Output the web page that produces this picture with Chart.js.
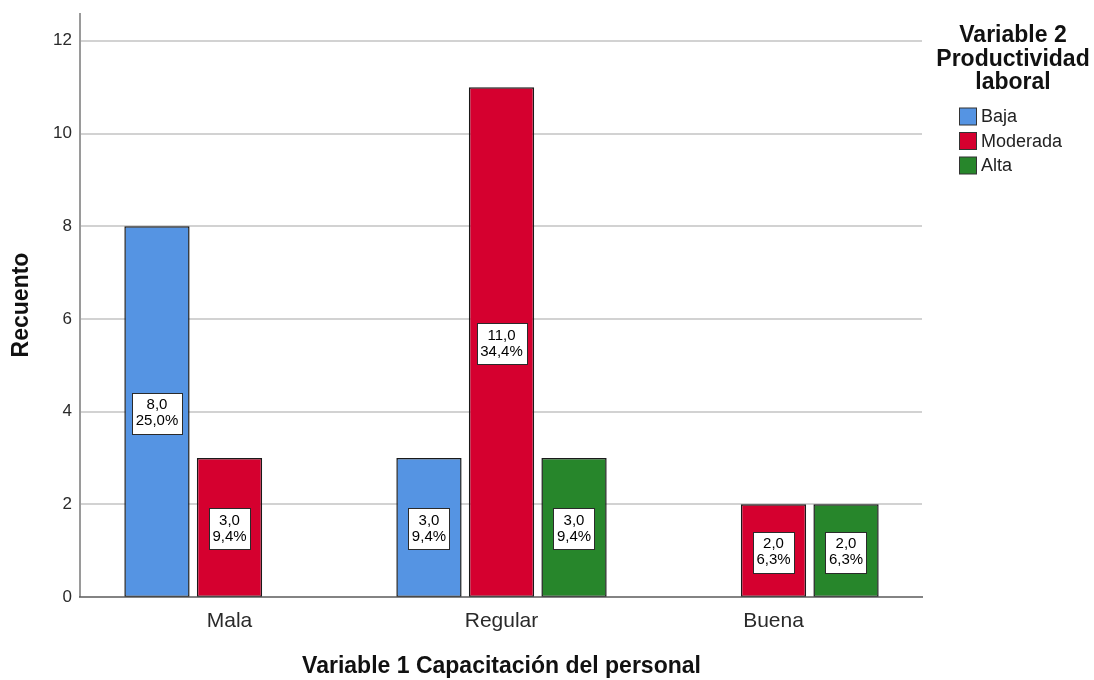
<!DOCTYPE html>
<html>
<head>
<meta charset="utf-8">
<script src="https://cdn.jsdelivr.net/npm/chart.js@4"></script>
<style>
  body { margin: 0; background: #fff; }
</style>
</head>
<body>
<canvas id="chart" width="1094" height="680"></canvas>
<script>
const categories = ['Mala', 'Regular', 'Buena'];
const seriesNames = ['Baja', 'Moderada', 'Alta'];
const baja = [8, 3, null];
const moderada = [3, 11, 2];
const alta = [null, 3, 2];
const bajaPct = [25.0, 9.4, null];
const moderadaPct = [9.4, 34.4, 6.3];
const altaPct = [null, 9.4, 6.3];
const yTicks = [0, 2, 4, 6, 8, 10, 12];

const colors = ['#5594e3', '#d5002f', '#27862b'];
const FONT = '"Liberation Sans", Arial, sans-serif';
const pctList = [bajaPct, moderadaPct, altaPct];

const fmt = v => v.toFixed(1).replace('.', ',');

// gridlines and axis lines run wider than the bar area, like SPSS
const axisLines = {
    id: 'axisLines',
    beforeDatasetsDraw(chart) {
        const ctx = chart.ctx;
        const y = chart.scales.y;
        const x0 = 80, x1 = 922;
        ctx.save();
        ctx.strokeStyle = '#d2d2d2';
        ctx.lineWidth = 2;
        yTicks.forEach(t => {
            if (t === 0) return;
            const py = Math.round(y.getPixelForValue(t));
            ctx.beginPath();
            ctx.moveTo(x0, py);
            ctx.lineTo(x1, py);
            ctx.stroke();
        });
        ctx.strokeStyle = '#9a9a9a';
        ctx.beginPath();
        ctx.moveTo(x0, chart.chartArea.top);
        ctx.lineTo(x0, y.getPixelForValue(0));
        ctx.stroke();
        ctx.restore();
    },
    afterDatasetsDraw(chart) {
        const ctx = chart.ctx;
        const py = chart.scales.y.getPixelForValue(0);
        ctx.save();
        ctx.strokeStyle = '#5a5a5a';
        ctx.lineWidth = 1.5;
        ctx.beginPath();
        ctx.moveTo(79, py);
        ctx.lineTo(923, py);
        ctx.stroke();
        ctx.restore();
    }
};

// boxed value labels in the middle of each bar
const boxLabels = {
    id: 'boxLabels',
    afterDatasetsDraw(chart) {
        const ctx = chart.ctx;
        ctx.save();
        ctx.font = '15px ' + FONT;
        ctx.textAlign = 'center';
        ctx.textBaseline = 'middle';
        chart.data.datasets.forEach((ds, i) => {
            chart.getDatasetMeta(i).data.forEach((el, j) => {
                const v = ds.data[j];
                if (v === null) return;
                const l1 = fmt(v);
                const l2 = fmt(pctList[i][j]) + '%';
                const w = Math.max(ctx.measureText(l1).width, ctx.measureText(l2).width) + 7;
                const h = 41;
                const cx = el.x;
                const cy = (el.y + el.base) / 2 + 1.5;
                ctx.fillStyle = '#fff';
                ctx.fillRect(Math.round(cx - w / 2) + 0.5, Math.round(cy - h / 2) + 0.5, Math.round(w), h);
                ctx.strokeStyle = '#2a2a2a';
                ctx.lineWidth = 1;
                ctx.strokeRect(Math.round(cx - w / 2) + 0.5, Math.round(cy - h / 2) + 0.5, Math.round(w), h);
                ctx.fillStyle = '#000';
                ctx.fillText(l1, cx, cy - 8);
                ctx.fillText(l2, cx, cy + 8);
            });
        });
        ctx.restore();
    }
};

const sideLegend = {
    id: 'sideLegend',
    afterDraw(chart) {
        const ctx = chart.ctx;
        ctx.save();
        ctx.fillStyle = '#111';
        ctx.textAlign = 'center';
        ctx.textBaseline = 'middle';
        ctx.font = 'bold 23px ' + FONT;
        ['Variable 2', 'Productividad', 'laboral'].forEach((t, i) => {
            ctx.fillText(t, 1013, 36 + i * 23.5);
        });
        ctx.font = '18px ' + FONT;
        ctx.textAlign = 'left';
        seriesNames.forEach((name, i) => {
            const cy = 116.5 + i * 24.5;
            ctx.fillStyle = colors[i];
            ctx.fillRect(959.5, cy - 8.5, 17, 17);
            ctx.strokeStyle = '#333';
            ctx.lineWidth = 1;
            ctx.strokeRect(959.5, cy - 8.5, 17, 17);
            ctx.fillStyle = '#222';
            ctx.fillText(name, 981, cy + 1);
        });
        ctx.restore();
    }
};

const makeSet = (label, data, i) => ({
    label: label,
    data: data,
    backgroundColor: colors[i],
    borderColor: '#1a1a1a',
    borderWidth: 1.5,
    borderSkipped: false,
    categoryPercentage: 0.8,
    barPercentage: 0.9
});

const noPad = s => {
    s.paddingTop = 0;
    s.paddingBottom = 0;
    s.paddingLeft = 0;
    s.paddingRight = 0;
};

new Chart(document.getElementById('chart').getContext('2d'), {
    type: 'bar',
    data: {
        labels: categories,
        datasets: [
            makeSet(seriesNames[0], baja, 0),
            makeSet(seriesNames[1], moderada, 1),
            makeSet(seriesNames[2], alta, 2)
        ]
    },
    options: {
        responsive: false,
        animation: false,
        layout: { padding: { top: 13, right: 184.5, left: 0, bottom: 0 } },
        plugins: {
            legend: { display: false },
            tooltip: { enabled: false }
        },
        scales: {
            x: {
                grid: { display: false },
                border: { display: false },
                ticks: { color: '#2a2a2a', padding: 4, font: { family: FONT, size: 21 } },
                title: {
                    display: true,
                    text: 'Variable 1 Capacitación del personal',
                    color: '#111',
                    padding: { top: 3, bottom: 0 },
                    font: { family: FONT, size: 23, weight: 'bold' }
                },
                afterFit(s) { s.height = 83; noPad(s); }
            },
            y: {
                min: 0,
                max: 12.6,
                grid: { display: false },
                border: { display: false },
                ticks: { stepSize: 2, color: '#2a2a2a', padding: 13.5, font: { family: FONT, size: 17 } },
                afterBuildTicks(s) { s.ticks = yTicks.map(v => ({ value: v })); },
                title: {
                    display: true,
                    text: 'Recuento',
                    color: '#111',
                    padding: { top: 8, bottom: 0 },
                    font: { family: FONT, size: 23, weight: 'bold' }
                },
                afterFit(s) { s.width = 93.5; noPad(s); }
            }
        }
    },
    plugins: [axisLines, boxLabels, sideLegend]
});
</script>
</body>
</html>
